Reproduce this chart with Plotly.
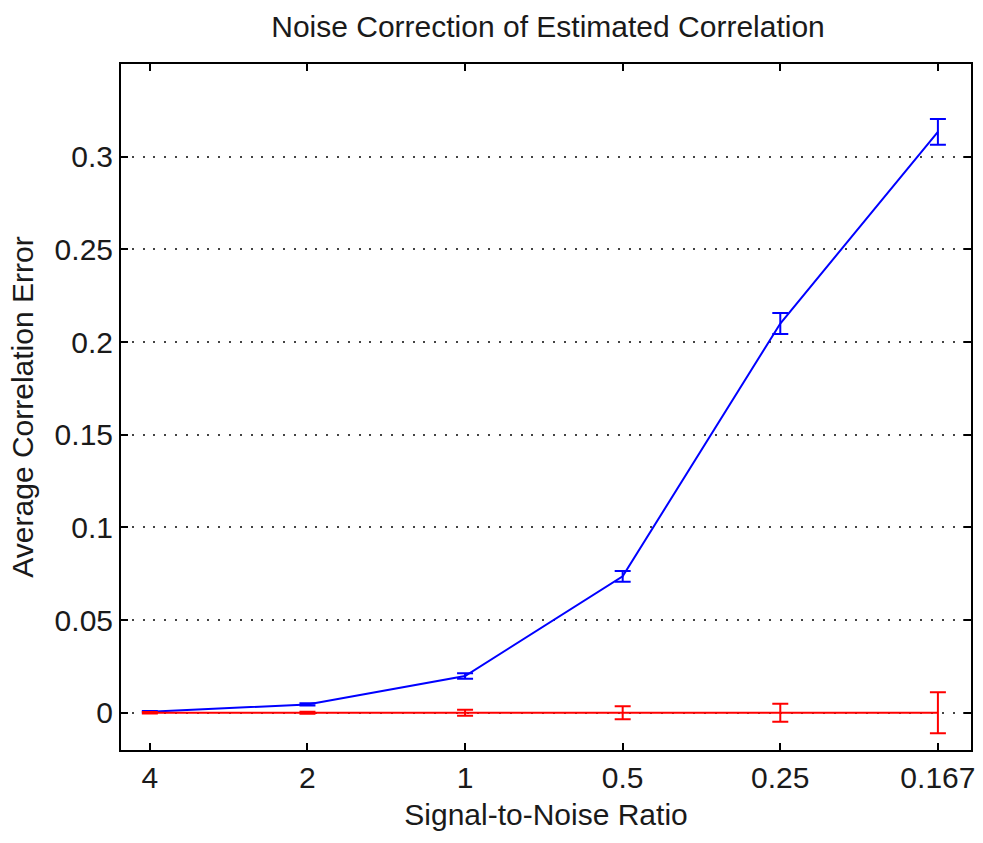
import plotly.graph_objects as go

# Signal-to-noise levels (category labels on the x axis)
snr_labels = ["4", "2", "1", "0.5", "0.25", "0.167"]

# Average correlation error without noise correction (blue) and its error bars
uncorrected = [0.0005, 0.0045, 0.0198, 0.0736, 0.2100, 0.3134]
uncorrected_err = [0.0004, 0.0006, 0.0015, 0.0029, 0.0056, 0.0069]

# Average correlation error after noise correction (red) and its error bars
corrected = [0.0, 0.0, 0.0, 0.0, 0.0, 0.0]
corrected_err = [0.0004, 0.0005, 0.0016, 0.0035, 0.0049, 0.0110]

y_ticks = [0, 0.05, 0.1, 0.15, 0.2, 0.25, 0.3]
y_tick_text = ["0", "0.05", "0.1", "0.15", "0.2", "0.25", "0.3"]

FONT = "Liberation Sans, Arial, sans-serif"
SIZE = 30
INK = "#1a1a1a"

fig = go.Figure()

fig.add_trace(go.Scatter(
    x=snr_labels, y=uncorrected, mode="lines",
    line=dict(color="#0000ff", width=2),
    error_y=dict(type="data", array=uncorrected_err, visible=True,
                 color="#0000ff", thickness=2, width=8),
    showlegend=False,
))

fig.add_trace(go.Scatter(
    x=snr_labels, y=corrected, mode="lines",
    line=dict(color="#ff0000", width=2),
    error_y=dict(type="data", array=corrected_err, visible=True,
                 color="#ff0000", thickness=2, width=8),
    showlegend=False,
))

fig.update_layout(
    width=983, height=843,
    margin=dict(l=121, r=8, t=64, b=93),
    paper_bgcolor="white", plot_bgcolor="white",
    font=dict(family=FONT, size=SIZE, color=INK),
    title=dict(text="Noise Correction of Estimated Correlation",
               x=0.5575, xanchor="center", y=1 - 26 / 843, yanchor="middle",
               yref="container", font=dict(size=SIZE, family=FONT, color=INK)),
)

fig.update_xaxes(
    type="category", categoryorder="array", categoryarray=snr_labels,
    range=[-0.183, 5.21],
    showgrid=False, zeroline=False,
    showline=True, linecolor="black", linewidth=2, mirror="ticks",
    ticks="inside", ticklen=7, tickwidth=2, tickcolor="black",
    tickfont=dict(size=SIZE, family=FONT, color=INK),
    title=dict(text="Signal-to-Noise Ratio", standoff=11,
               font=dict(size=SIZE, family=FONT, color=INK)),
)

fig.update_yaxes(
    range=[-0.0201, 0.350],
    tickvals=y_ticks, ticktext=y_tick_text,
    showgrid=True, gridcolor="#444444", gridwidth=2, griddash="2px,8.8px",
    zeroline=False,
    showline=True, linecolor="black", linewidth=2, mirror="ticks",
    ticks="inside", ticklen=7, tickwidth=2, tickcolor="black",
    tickfont=dict(size=SIZE, family=FONT, color=INK),
    title=dict(text="Average Correlation Error", standoff=12,
               font=dict(size=SIZE, family=FONT, color=INK)),
)

fig.write_html("out.html")
